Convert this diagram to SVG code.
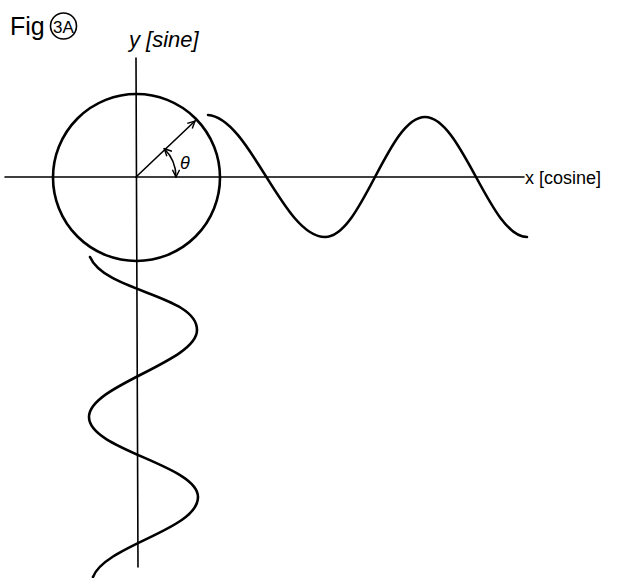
<svg xmlns="http://www.w3.org/2000/svg" width="625" height="578" viewBox="0 0 625 578">
<style>
.ink{fill:none;stroke:#000;stroke-linecap:round;stroke-linejoin:round}
.thick{stroke-width:2.6}
.thin{stroke-width:1.6}
.lbl{font-family:"Liberation Sans","DejaVu Sans",sans-serif;fill:#000}
</style>
<defs>
<marker id="vhead" viewBox="0 0 10 10" refX="9" refY="5" markerWidth="9" markerHeight="9" orient="auto-start-reverse" markerUnits="userSpaceOnUse">
<path d="M1,1 L9,5 L1,9" fill="none" stroke="#000" stroke-width="1.6"/>
</marker>
</defs>
<rect width="625" height="578" fill="#fff"/>
<g id="title">
<text class="lbl" x="10" y="35" font-size="25">Fig</text>
<circle class="ink thin" cx="63.5" cy="26" r="13"/>
<text class="lbl" x="63.5" y="32.5" font-size="17" text-anchor="middle">3A</text>
</g>
<g id="connectors">
<line id="x-axis" class="ink thin" x1="5" y1="177" x2="524" y2="177"/>
<line id="y-axis" class="ink thin" x1="136" y1="58" x2="138" y2="567"/>
<line id="radius" class="ink thin" x1="136" y1="177" x2="195" y2="121" marker-end="url(#vhead)"/>
<path id="theta-arc" class="ink thin" d="M176,177 A40,40 0 0 0 164.3,148.7" marker-start="url(#vhead)" marker-end="url(#vhead)"/>
</g>
<g id="unit-circle">
<circle class="ink thick" cx="136.5" cy="177.5" r="83.5"/>
<text class="lbl" x="180" y="169" font-size="18" font-style="italic">θ</text>
</g>
<g id="cosine-wave">
<path class="ink thick" d="M208,115 C250,118 283,237 325,237 C362,237 388,117 425,117 C462,117 490,237 527,237"/>
</g>
<g id="sine-wave">
<path class="ink thick" d="M90,257 C105,292 197,295 197,330 C197,362 89,385 89,417 C89,450 198,465 198,497 C198,530 105,545 93,577"/>
</g>
<g id="y-label">
<text class="lbl" x="129" y="47" font-size="22" font-style="italic">y [sine]</text>
</g>
<g id="x-label">
<text class="lbl" x="525" y="184" font-size="18">x [cosine]</text>
</g>
</svg>
